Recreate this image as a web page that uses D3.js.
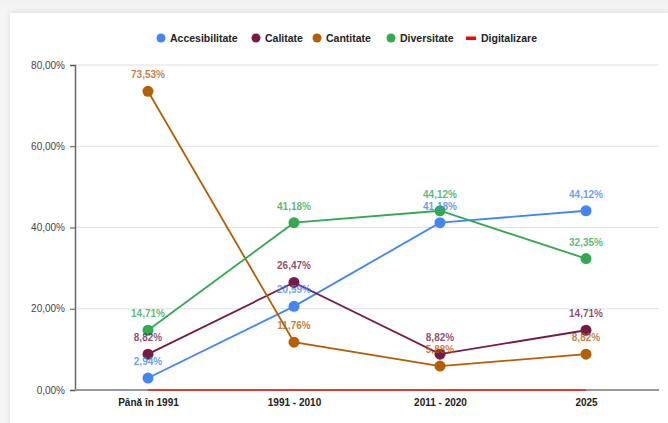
<!DOCTYPE html>
<html><head><meta charset="utf-8">
<script src="https://cdn.jsdelivr.net/npm/d3@7"></script>
<style>
html,body{margin:0;padding:0;background:#f3f3f3;}
#wrap{position:relative;width:668px;height:423px;overflow:hidden;background:linear-gradient(#f1f1f1,#f6f6f6 13px,#f6f6f6);}
#card{position:absolute;left:10px;top:13px;width:680px;height:440px;background:#fff;box-shadow:0 0 6px rgba(0,0,0,0.12);}
svg{position:absolute;left:0;top:0;}
text{font-family:"Liberation Sans",Arial,sans-serif;}
</style></head>
<body><div id="wrap"><div id="card"></div><svg id="chart" width="668" height="423"></svg></div>
<script>
const categories = ["Până în 1991", "1991 - 2010", "2011 - 2020", "2025"];
const seriesNames = ["Accesibilitate", "Calitate", "Cantitate", "Diversitate", "Digitalizare"];
const seriesColors = ["#4285f4", "#741b47", "#b45f06", "#34a853", "#ff0000"];
const accesibilitate = [2.94, 20.59, 41.18, 44.12];
const calitate = [8.82, 26.47, 8.82, 14.71];
const cantitate = [73.53, 11.76, 5.88, 8.82];
const diversitate = [14.71, 41.18, 44.12, 32.35];
const digitalizare = [0, 0, 0, 0];
const yTicks = [0, 20, 40, 60, 80];

(function () {
const seriesValues = [accesibilitate, calitate, cantitate, diversitate, digitalizare];
const svg = d3.select("#chart");
const mLeft = 75, mRight = 659, mTop = 65, mBottom = 390;
const x = d3.scalePoint().domain(categories).range([mLeft, mRight]).padding(0.5);
const y = d3.scaleLinear().domain([0, 80]).range([mBottom, mTop]);
const fmt = v => d3.format(".2f")(v).replace(".", ",") + "%";

// gridlines
svg.append("g").selectAll("line").data(yTicks.filter(t => t > 0)).join("line")
  .attr("x1", mLeft).attr("x2", mRight).attr("y1", d => y(d)).attr("y2", d => y(d))
  .attr("stroke", "#e0e0e0").attr("stroke-width", 1);

// y axis
const yAxis = svg.append("g").attr("transform", `translate(${mLeft},0)`)
  .call(d3.axisLeft(y).tickValues(yTicks).tickSize(5).tickPadding(5).tickFormat(fmt));
yAxis.select(".domain").attr("stroke", "#666").attr("stroke-width", 1.5);
yAxis.selectAll(".tick line").attr("stroke", "#555");
yAxis.selectAll("text").attr("font-size", 10).attr("fill", "#444").attr("font-family", "Liberation Sans, Arial, sans-serif");

// x axis
const xAxis = svg.append("g").attr("transform", `translate(0,${mBottom})`)
  .call(d3.axisBottom(x).tickSize(0).tickPadding(9));
xAxis.select(".domain").attr("stroke", "#999").attr("stroke-width", 2).attr("d", `M${mLeft},0H${mRight}`);
xAxis.selectAll("text").attr("font-size", 10).attr("font-weight", "bold").attr("fill", "#222").attr("font-family", "Liberation Sans, Arial, sans-serif");

const line = d3.line().x((d, i) => x(categories[i])).y(d => y(d));

seriesValues.forEach((vals, si) => {
  const col = seriesColors[si];
  const g = svg.append("g");
  g.append("path").datum(vals).attr("d", line).attr("fill", "none")
    .attr("stroke", col).attr("stroke-width", si === 4 ? 2 : 1.8)
    .attr("stroke-opacity", si === 4 ? 0.6 : 1);
  if (si === 4) return;
  g.selectAll("circle").data(vals).join("circle")
    .attr("cx", (d, i) => x(categories[i])).attr("cy", d => y(d)).attr("r", 5.5)
    .attr("fill", col);
});

// labels
seriesValues.forEach((vals, si) => {
  if (si === 4) return;
  const col = seriesColors[si];
  svg.append("g").selectAll("text").data(vals).join("text")
    .attr("x", (d, i) => x(categories[i])).attr("y", d => y(d) - 13)
    .attr("text-anchor", "middle").attr("font-size", 10).attr("font-weight", "bold")
    .attr("fill", col).attr("fill-opacity", 0.8)
    .text(d => fmt(d));
});

// legend
const legend = svg.append("g").attr("transform", "translate(0,38)");
const legX = [161, 256, 317, 391, 466];
seriesNames.forEach((n, i) => {
  const gi = legend.append("g").attr("transform", `translate(${legX[i]},0)`);
  if (i === 4) {
    gi.append("rect").attr("x", 0).attr("y", -1.5).attr("width", 10).attr("height", 3.5).attr("fill", seriesColors[i]);
    gi.append("text").attr("x", 15).attr("y", 4).attr("font-size", 10.5).attr("font-weight", "bold").attr("fill", "#222").text(n);
  } else {
    gi.append("circle").attr("cx", 0).attr("cy", 0).attr("r", 4.5).attr("fill", seriesColors[i]);
    gi.append("text").attr("x", 9).attr("y", 4).attr("font-size", 10.5).attr("font-weight", "bold").attr("fill", "#222").text(n);
  }
});
})();
</script></body></html>
